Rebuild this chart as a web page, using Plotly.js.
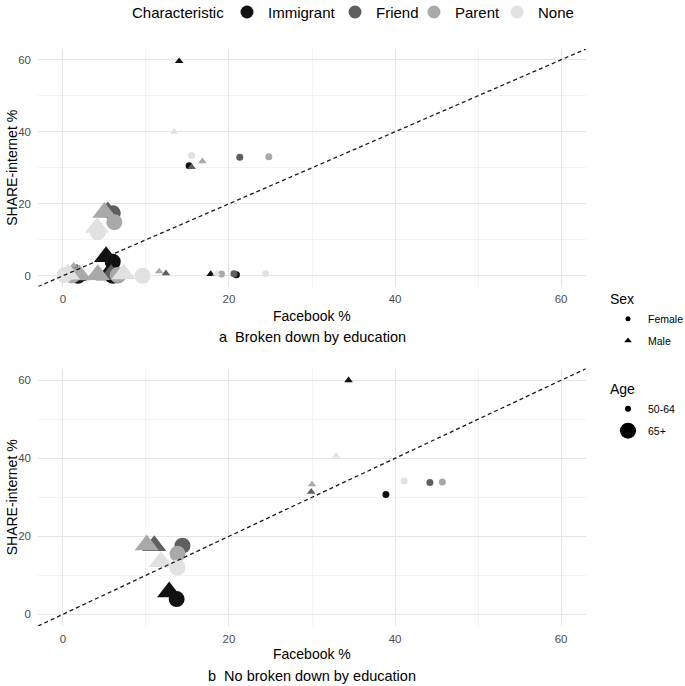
<!DOCTYPE html>
<html><head><meta charset="utf-8">
<script src="https://cdn.plot.ly/plotly-3.0.1.min.js"></script>
<style>html,body{margin:0;padding:0;background:#fff}#chart{width:685px;height:686px}</style>
</head><body><div id="chart"></div>
<script>
// ---- categories ----
const characteristics = ['Immigrant', 'Friend', 'Parent', 'None'];
const sexes = ['Female', 'Male'];
const ages = ['50-64', '65+'];
const educationGroupsPerCell = 3;          // panel a: one point per education level
const tickStep = 20;

// ---- panel a: broken down by education (order: characteristic > sex > age > education) ----
const aFacebook = [
  15.2, 20.9, 1.6,   6.0, 6.0, 1.8,     14.0, 17.8, 2.1,   5.2, 5.4, 1.4,    // Immigrant F / M
  21.3, 20.6, 1.9,   6.0, 6.6, 1.2,     15.5, 12.4, 1.6,   5.4, 5.8, 1.7,    // Friend
  24.8, 19.1, 2.2,   6.2, 6.6, 1.1,     16.8, 11.6, 1.3,   5.0, 4.2, 2.0,    // Parent
  15.5, 24.4, 0.6,   4.2, 9.6, 0.2,     13.4, 18.5, 0.9,   4.1, 7.3, 0.6     // None
];
const aShare = [
  30.6, 0.3, 0.4,    3.9, 0.0, 0.0,     59.6, 0.5, 1.5,    5.3, 0.2, 0.1,
  32.9, 0.6, 0.3,   17.4, 0.1, 0.2,     30.2, 0.7, 2.2,   17.7, 0.3, 0.4,
  33.1, 0.5, 0.8,   14.9, 0.2, 0.1,     31.8, 1.2, 2.8,   17.6, 0.3, 0.2,
  33.4, 0.6, 0.8,   12.1, 0.0, 0.2,     40.0, 0.6, 1.8,   13.4, 0.5, 0.4
];

// ---- panel b: not broken down by education (order: characteristic > sex > age) ----
const bFacebook = [38.9, 13.7, 34.4, 12.8,  44.2, 14.4, 29.9, 11.0,  45.7, 13.8, 30.0, 10.1,  41.1, 13.8, 32.9, 11.8];
const bShare    = [30.7,  3.9, 60.0,  5.7,  33.8, 17.6, 31.4, 17.6,  33.9, 15.5, 33.3, 17.8,  34.2, 12.0, 40.6, 13.5];

// ---- styles ----
const FONT = 'Liberation Sans, Arial, Helvetica, sans-serif';
const charColor = {Immigrant: '#111111', Friend: '#5f5f5f', Parent: '#a9a9a9', None: '#e1e1e1'};
const sexSymbol = {Female: 'circle', Male: 'triangle-up'};
const markerSize = {circle: {'50-64': 7, '65+': 16}, 'triangle-up': {'50-64': 7.5, '65+': 21}};
const axisRange = [-3, 63];

function buildCategories(perCell) {
  const out = {c: [], s: [], g: []};
  characteristics.forEach(c => sexes.forEach(s => ages.forEach(g => {
    for (let i = 0; i < perCell; i++) { out.c.push(c); out.s.push(s); out.g.push(g); }
  })));
  return out;
}
function pointTrace(xs, ys, cats, xa, ya) {
  return {
    type: 'scatter', mode: 'markers', x: xs, y: ys, xaxis: xa, yaxis: ya,
    showlegend: false, hoverinfo: 'skip',
    marker: {
      color: cats.c.map(c => charColor[c]),
      symbol: cats.s.map(s => sexSymbol[s]),
      size: cats.s.map((s, i) => markerSize[sexSymbol[s]][cats.g[i]]),
      line: {width: 0}, opacity: 1
    }
  };
}
const catsA = buildCategories(educationGroupsPerCell);
const catsB = buildCategories(1);

const traces = [
  pointTrace(aFacebook, aShare, catsA, 'x', 'y'),
  pointTrace(bFacebook, bShare, catsB, 'x2', 'y2')
];
// right-hand legend entries
sexes.forEach((s, i) => traces.push({
  type: 'scatter', mode: 'markers', x: [null], y: [null], name: s, legend: 'legend2',
  legendgroup: 's' + i, marker: {color: '#000', size: s === 'Female' ? 5 : 6.5, symbol: sexSymbol[s]}
}));
ages.forEach((g, i) => traces.push({
  type: 'scatter', mode: 'markers', x: [null], y: [null], name: g, legend: 'legend3',
  legendgroup: 'g' + i, marker: {color: '#000', size: g === '50-64' ? 6 : 16, symbol: 'circle'}
}));

function xAxis(anchor) {
  return {
    anchor: anchor, range: axisRange, tickmode: 'linear', tick0: 0, dtick: tickStep,
    showgrid: true, gridcolor: '#e5e5e5', gridwidth: 1,
    zeroline: false, showline: false, ticks: '', ticklabelstandoff: 4,
    tickfont: {family: FONT, size: 11.5, color: '#4d4d4d'},
    minor: {tickmode: 'linear', tick0: 0, dtick: tickStep / 2, showgrid: true, gridcolor: '#f0f0f0', gridwidth: 0.8, ticks: ''}
  };
}
function yAxis(anchor, domain) {
  const a = xAxis(anchor);
  a.domain = domain;
  a.ticklabelstandoff = 6;
  return a;
}
const PL = 38, PR = 586, PT = 49, PB = 626, W = PR - PL, H = PB - PT;
const px2x = p => (p - PL) / W;
const px2y = p => (PB - p) / H;
// panel heights chosen so that every 10 units spans a whole number of pixels (crisp, even gridlines)
const panelAHeight = 3.6 * (axisRange[1] - axisRange[0]);
const panelBHeight = 3.9 * (axisRange[1] - axisRange[0]);

const ann = (text, x, y, size, extra) => Object.assign({
  text: text, xref: 'paper', yref: 'paper', x: x, y: y, showarrow: false,
  xanchor: 'center', yanchor: 'middle', font: {family: FONT, size: size, color: '#000'}
}, extra || {});

// top "Characteristic" legend: symbol centres in pixels
const legendSymbolPx = [247, 355, 434, 517];
const legendY = 12;
const shapes = [
  {type: 'line', xref: 'x', yref: 'y', x0: axisRange[0], y0: axisRange[0], x1: axisRange[1], y1: axisRange[1],
   line: {color: '#1a1a1a', width: 1.3, dash: '4px,3px'}, layer: 'above'},
  {type: 'line', xref: 'x2', yref: 'y2', x0: axisRange[0], y0: axisRange[0], x1: axisRange[1], y1: axisRange[1],
   line: {color: '#1a1a1a', width: 1.3, dash: '4px,3px'}, layer: 'above'}
];
const annotations = [
  ann('Facebook %', 0.5, px2y(316), 14),
  ann('a\u00a0 Broken down by education', 0.5, px2y(337), 14.5),
  ann('Facebook %', 0.5, px2y(654), 14),
  ann('b\u00a0 No broken down by education', 0.5, px2y(676), 14.5),
  ann('SHARE-internet %', px2x(12), px2y(PT + panelAHeight / 2), 14, {textangle: -90}),
  ann('SHARE-internet %', px2x(12), px2y(PB - panelBHeight / 2), 14, {textangle: -90}),
  ann('Characteristic', px2x(226), px2y(legendY), 15, {xanchor: 'right'})
];
characteristics.forEach((c, i) => {
  shapes.push({type: 'circle', xref: 'paper', yref: 'paper', xsizemode: 'pixel', ysizemode: 'pixel',
    xanchor: px2x(legendSymbolPx[i]), yanchor: px2y(legendY), x0: -6.5, x1: 6.5, y0: -6.5, y1: 6.5,
    fillcolor: charColor[c], line: {width: 0}});
  annotations.push(ann(c, px2x(legendSymbolPx[i] + 19), px2y(legendY), 15, {xanchor: 'left'}));
});

const layout = {
  width: 685, height: 686, paper_bgcolor: '#fff', plot_bgcolor: '#fff',
  margin: {l: PL, r: 685 - PR, t: PT, b: 686 - PB, autoexpand: false},
  font: {family: FONT, color: '#000'},
  xaxis: xAxis('y'), yaxis: yAxis('x', [1 - panelAHeight / H, 1]),
  xaxis2: xAxis('y2'), yaxis2: yAxis('x2', [0, panelBHeight / H]),
  shapes: shapes,
  annotations: annotations,
  legend2: {
    x: px2x(608), y: px2y(286), xanchor: 'left', yanchor: 'top', traceorder: 'grouped', tracegroupgap: 3,
    title: {text: 'Sex', font: {family: FONT, size: 14, color: '#000'}},
    font: {family: FONT, size: 10.5, color: '#000'}, bgcolor: 'rgba(0,0,0,0)'
  },
  legend3: {
    x: px2x(608), y: px2y(376), xanchor: 'left', yanchor: 'top', traceorder: 'grouped', tracegroupgap: 3,
    title: {text: 'Age', font: {family: FONT, size: 14, color: '#000'}},
    font: {family: FONT, size: 10.5, color: '#000'}, bgcolor: 'rgba(0,0,0,0)'
  }
};

Plotly.newPlot('chart', traces, layout, {displayModeBar: false, staticPlot: true});
</script>
</body></html>
